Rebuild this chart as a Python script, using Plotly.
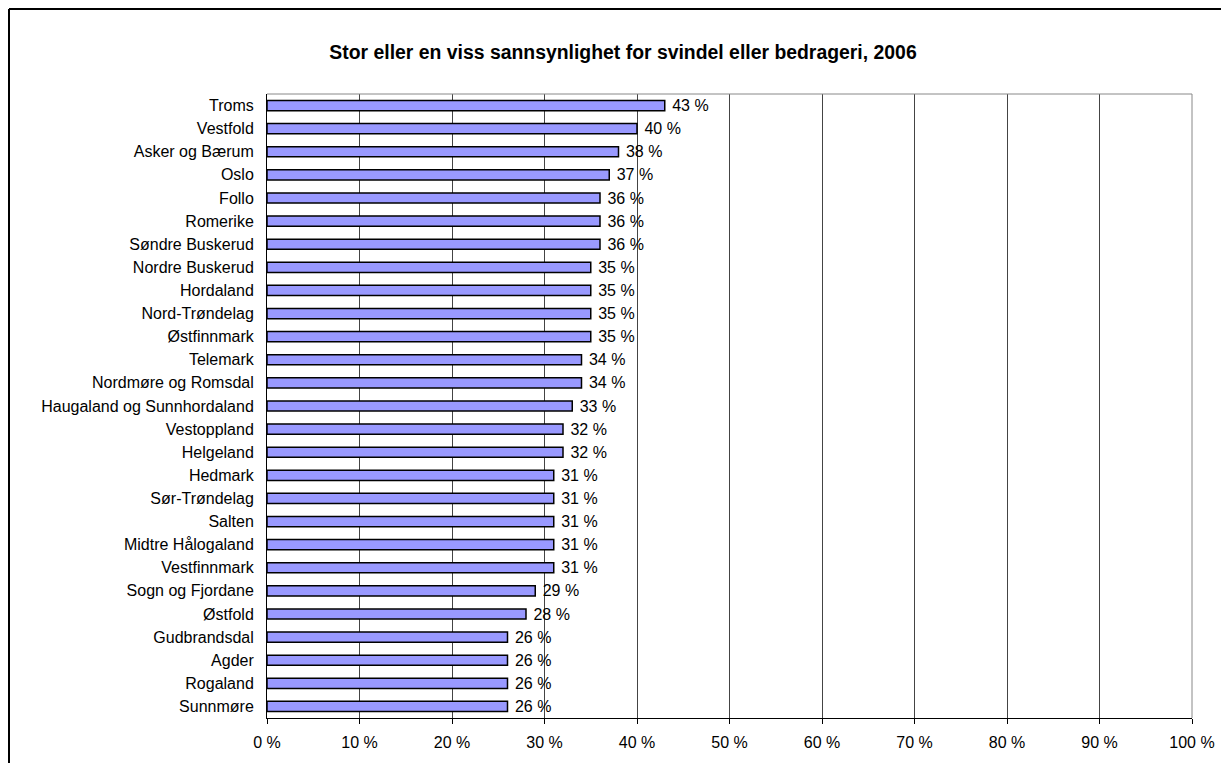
import plotly.graph_objects as go

categories = ["Troms", "Vestfold", "Asker og Bærum", "Oslo", "Follo", "Romerike",
              "Søndre Buskerud", "Nordre Buskerud", "Hordaland", "Nord-Trøndelag",
              "Østfinnmark", "Telemark", "Nordmøre og Romsdal", "Haugaland og Sunnhordaland",
              "Vestoppland", "Helgeland", "Hedmark", "Sør-Trøndelag", "Salten",
              "Midtre Hålogaland", "Vestfinnmark", "Sogn og Fjordane", "Østfold",
              "Gudbrandsdal", "Agder", "Rogaland", "Sunnmøre"]
values = [43, 40, 38, 37, 36, 36, 36, 35, 35, 35, 35, 34, 34, 33, 32, 32, 31, 31, 31, 31, 31,
          29, 28, 26, 26, 26, 26]
x_ticks = [0, 10, 20, 30, 40, 50, 60, 70, 80, 90, 100]
x_tick_labels = [f"{t} %" for t in x_ticks]
title = "Stor eller en viss sannsynlighet for svindel eller bedrageri, 2006"

FONT = "Liberation Sans, Arial, sans-serif"

fig = go.Figure(go.Bar(
    y=categories, x=values, orientation="h",
    marker=dict(color="#9999FF", line=dict(color="black", width=1.5)),
    text=[f" {v} %" for v in values], textposition="outside",
    constraintext="none",
    textfont=dict(family=FONT, size=16, color="black"),
    cliponaxis=False,
))

# figure is placed at (8, 8) in the page by the default body margin
W, H = 1221, 755
L, T = 259, 86
R = W - 1184
B = H - 710
pw, ph = W - L - R, H - T - B

fig.update_layout(
    width=W, height=H,
    margin=dict(l=L, r=R, t=T, b=B),
    paper_bgcolor="white", plot_bgcolor="white",
    showlegend=False,
    bargap=0.56,
    title=dict(text=f"<b>{title}</b>", x=615 / W, xref="container",
               xanchor="center", y=1 - 44 / H, yanchor="middle",
               font=dict(family=FONT, size=19.4, color="black")),
    xaxis=dict(range=[0, 100], tickvals=x_ticks, ticktext=x_tick_labels,
               showgrid=True, gridcolor="#444444", gridwidth=1,
               showline=True, linecolor="black", linewidth=1,
               ticks="outside", ticklen=5, tickcolor="black",
               tickfont=dict(family=FONT, size=16, color="black"),
               ticklabelstandoff=5, zeroline=False, fixedrange=True),
    yaxis=dict(autorange="reversed", showline=True, linecolor="black", linewidth=1,
               ticks="", ticklabelstandoff=9,
               tickfont=dict(family=FONT, size=16, color="black"),
               showgrid=False, fixedrange=True),
    font=dict(family=FONT),
)

# plot area border (top & right gray)
fig.add_shape(type="line", xref="paper", yref="paper", x0=0, x1=1, y0=1, y1=1,
              line=dict(color="#888888", width=1))
fig.add_shape(type="line", xref="paper", yref="paper", x0=1, x1=1, y0=0, y1=1,
              line=dict(color="#888888", width=1))

# outer chart frame: top and left edges
fx0 = (1 - L) / pw
fy1 = (H - B - 1) / ph
fig.add_shape(type="line", xref="paper", yref="paper", x0=fx0, x1=(W + 5 - L) / pw,
              y0=fy1, y1=fy1, line=dict(color="black", width=2))
fig.add_shape(type="line", xref="paper", yref="paper", x0=fx0, x1=fx0,
              y0=-(B + 5) / ph, y1=fy1, line=dict(color="black", width=2))

fig.write_html("out.html")
